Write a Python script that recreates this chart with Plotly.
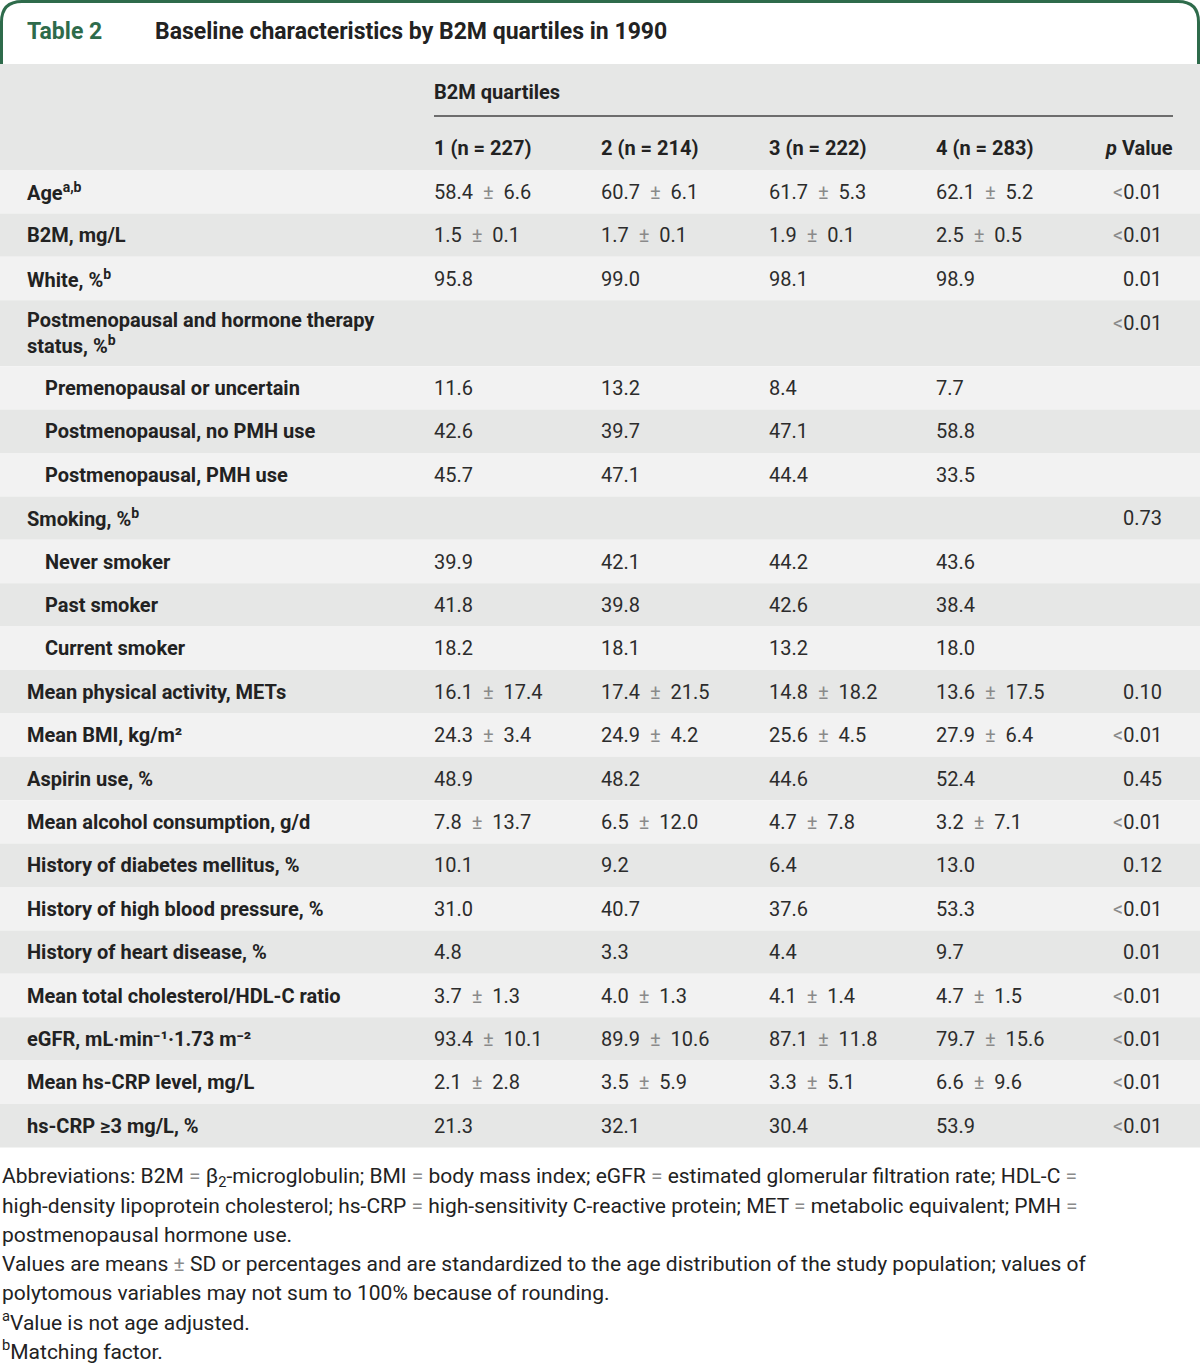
import plotly.graph_objects as go

# ---------------- data ----------------
row_labels = [
    "Age<sup>a,b</sup>", "B2M, mg/L", "White, %<sup>b</sup>",
    "Postmenopausal and hormone therapy<br>status, %<sup>b</sup>",
    "Premenopausal or uncertain", "Postmenopausal, no PMH use", "Postmenopausal, PMH use",
    "Smoking, %<sup>b</sup>", "Never smoker", "Past smoker", "Current smoker",
    "Mean physical activity, METs", "Mean BMI, kg/m²", "Aspirin use, %",
    "Mean alcohol consumption, g/d", "History of diabetes mellitus, %",
    "History of high blood pressure, %", "History of heart disease, %",
    "Mean total cholesterol/HDL-C ratio", "eGFR, mL·min⁻¹·1.73 m⁻²",
    "Mean hs-CRP level, mg/L", "hs-CRP ≥3 mg/L, %",
]
indented = [False, False, False, False, True, True, True, False, True, True, True,
            False, False, False, False, False, False, False, False, False, False, False]
col_headers = ["1 (n = 227)", "2 (n = 214)", "3 (n = 222)", "4 (n = 283)"]
q1 = ["58.4 ± 6.6", "1.5 ± 0.1", "95.8", "", "11.6", "42.6", "45.7", "", "39.9", "41.8", "18.2",
      "16.1 ± 17.4", "24.3 ± 3.4", "48.9", "7.8 ± 13.7", "10.1", "31.0", "4.8", "3.7 ± 1.3",
      "93.4 ± 10.1", "2.1 ± 2.8", "21.3"]
q2 = ["60.7 ± 6.1", "1.7 ± 0.1", "99.0", "", "13.2", "39.7", "47.1", "", "42.1", "39.8", "18.1",
      "17.4 ± 21.5", "24.9 ± 4.2", "48.2", "6.5 ± 12.0", "9.2", "40.7", "3.3", "4.0 ± 1.3",
      "89.9 ± 10.6", "3.5 ± 5.9", "32.1"]
q3 = ["61.7 ± 5.3", "1.9 ± 0.1", "98.1", "", "8.4", "47.1", "44.4", "", "44.2", "42.6", "13.2",
      "14.8 ± 18.2", "25.6 ± 4.5", "44.6", "4.7 ± 7.8", "6.4", "37.6", "4.4", "4.1 ± 1.4",
      "87.1 ± 11.8", "3.3 ± 5.1", "30.4"]
q4 = ["62.1 ± 5.2", "2.5 ± 0.5", "98.9", "", "7.7", "58.8", "33.5", "", "43.6", "38.4", "18.0",
      "13.6 ± 17.5", "27.9 ± 6.4", "52.4", "3.2 ± 7.1", "13.0", "53.3", "9.7", "4.7 ± 1.5",
      "79.7 ± 15.6", "6.6 ± 9.6", "53.9"]
p_values = ["<0.01", "<0.01", "0.01", "<0.01", "", "", "", "0.73", "", "", "", "0.10", "<0.01",
            "0.45", "<0.01", "0.12", "<0.01", "0.01", "<0.01", "<0.01", "<0.01", "<0.01"]
footnotes = [
    "Abbreviations: B2M = β<sub>2</sub>-microglobulin; BMI = body mass index; eGFR = estimated glomerular filtration rate; HDL-C =",
    "high-density lipoprotein cholesterol; hs-CRP = high-sensitivity C-reactive protein; MET = metabolic equivalent; PMH =",
    "postmenopausal hormone use.",
    "Values are means ± SD or percentages and are standardized to the age distribution of the study population; values of",
    "polytomous variables may not sum to 100% because of rounding.",
    "<sup>a</sup>Value is not age adjusted.",
    "<sup>b</sup>Matching factor.",
]

# ---------------- styles ----------------
W, H = 1200, 1367
GREEN = "#2e6b4b"
DARK = "#e6e7e6"
LIGHT = "#f2f2f2"
TXT = "#222222"
VAL = "#2c2c2c"
GREY = "#8a8a8a"
FONT = "Roboto, 'Open Sans', sans-serif"
FS = 20

def grey_sym(s, wide=False):
    pm = f"&nbsp;<span style='color:{GREY}'>±</span>&nbsp;" if wide else f"<span style='color:{GREY}'>±</span>"
    s = s.replace("±", pm)
    s = s.replace("<0", f"<span style='color:{GREY}'>&lt;</span>0")
    s = s.replace(" =", f" <span style='color:{GREY}'>=</span>")
    return s

fig = go.Figure()
shapes = []
ann = []

# title frame
shapes.append(dict(type="path", path="M 1.5,64 L 1.5,22 Q 1.5,1.5 22,1.5 L 1178,1.5 Q 1198.5,1.5 1198.5,22 L 1198.5,64",
                   line=dict(color=GREEN, width=3), xref="x", yref="y"))
ann.append(dict(x=25, y=31, text="<b>Table 2</b>", font=dict(family=FONT, size=23, color=GREEN)))
ann.append(dict(x=153, y=31, text="<b>Baseline characteristics by B2M quartiles in 1990</b>",
                font=dict(family=FONT, size=23, color=TXT)))

# header block
shapes.append(dict(type="rect", x0=0, x1=W, y0=64, y1=170, fillcolor=DARK, line=dict(width=0), layer="below"))
col_x = [432, 599, 767, 934]
p_right = 1164
ann.append(dict(x=col_x[0], y=92, text="<b>B2M quartiles</b>", font=dict(family=FONT, size=FS, color=TXT)))
shapes.append(dict(type="line", x0=434, x1=1173, y0=116, y1=116, line=dict(color="#444444", width=1.5)))
for cx, h in zip(col_x, col_headers):
    ann.append(dict(x=cx, y=148, text=f"<b>{h.replace(' = ', '&nbsp;=&nbsp;')}</b>",
                    font=dict(family=FONT, size=FS, color=TXT)))
ann.append(dict(x=1175, y=148, xanchor="right", text="<b><i>p</i> Value</b>", font=dict(family=FONT, size=FS, color=TXT)))

# body rows
ROW_H = 43.4
top = 170
for i, lab in enumerate(row_labels):
    two = "<br>" in lab
    h = 66 if two else ROW_H
    shapes.append(dict(type="rect", x0=0, x1=W, y0=top, y1=top + h,
                       fillcolor=(DARK if i % 2 else LIGHT), line=dict(width=0), layer="below"))
    yc = top + h / 2
    ytop = top + 23 if two else yc
    ann.append(dict(x=43 if indented[i] else 25, y=yc, text=f"<b>{lab}</b>",
                    font=dict(family=FONT, size=FS, color=TXT), align="left"))
    for cx, col in zip(col_x, [q1, q2, q3, q4]):
        if col[i]:
            ann.append(dict(x=cx, y=ytop, text=grey_sym(col[i], wide=True),
                            font=dict(family=FONT, size=FS, color=VAL)))
    if p_values[i]:
        ann.append(dict(x=p_right, y=ytop, xanchor="right", text=grey_sym(p_values[i]),
                        font=dict(family=FONT, size=FS, color=VAL)))
    top += h

# footnotes
fy = top + 30
for line in footnotes:
    ann.append(dict(x=0, y=fy, text=grey_sym(line), font=dict(family=FONT, size=21, color=TXT)))
    fy += 28.8

for a in ann:
    a.setdefault("xanchor", "left")
    a.setdefault("yanchor", "middle")
    a.update(xref="x", yref="y", showarrow=False)

fig.update_layout(
    width=W, height=H, margin=dict(l=0, r=0, t=0, b=0),
    paper_bgcolor="white", plot_bgcolor="white",
    xaxis=dict(range=[0, W], visible=False, fixedrange=True),
    yaxis=dict(range=[H, 0], visible=False, fixedrange=True),
    shapes=shapes, annotations=ann, showlegend=False,
)
fig.write_html("out.html", config={"displayModeBar": False},
               post_script="document.body.style.margin='0';")
